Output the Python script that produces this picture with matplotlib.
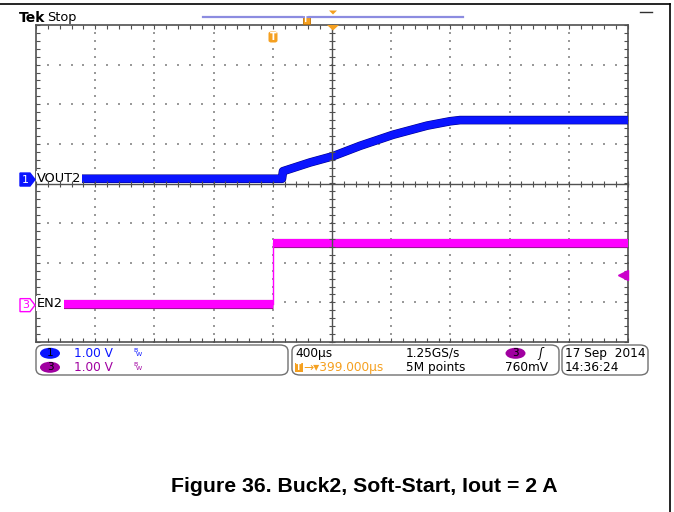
import numpy as np
import matplotlib.pyplot as plt
import matplotlib.patheffects as pe
from matplotlib.patches import FancyBboxPatch, Ellipse, Polygon, Rectangle
from matplotlib.lines import Line2D

# Scope settings
time_per_div_us = 400
h_position_us = 399
volts_per_div = 1.0
ch1_offset_div = 0.1
ch3_offset_div = -3.07
trigger_level_v = 0.76

# CH1: VOUT2 soft-start ramp (time in us from trigger, volts)
vout_t_us = [-1601, 61, 68, 250, 406, 588, 811, 1041, 1196, 1264, 2399]
vout_v = [0.02, 0.02, 0.21, 0.43, 0.59, 0.85, 1.13, 1.36, 1.47, 1.50, 1.50]

# CH3: EN2 enable step
en_low_t_us = [-1601, 0]
en_low_v = [0.04, 0.04]
en_high_t_us = [0, 2399]
en_high_v = [1.56, 1.56]

W, H = 674, 512
fig = plt.figure(figsize=(W / 100, H / 100), dpi=100)
fig.patch.set_facecolor('white')


def fp(x, y):
    # pixel position -> figure fraction
    return x / W, 1 - y / H


# graticule area
gl, gt, gr, gb = 36, 25, 628, 342
ax_rect = [gl / W, 1 - gb / H, (gr - gl) / W, (gb - gt) / H]
ax = fig.add_axes(ax_rect)
x0 = h_position_us - 5 * time_per_div_us
x1 = h_position_us + 5 * time_per_div_us
ax.set_xlim(x0, x1)
ax.set_ylim(-4, 4)
grid_col = '#505050'
for s in ax.spines.values():
    s.set_color(grid_col)
    s.set_linewidth(1.2)

minor_x = np.arange(x0, x1 + 1, time_per_div_us / 5)
minor_y = np.arange(-4, 4.01, 0.2)
ax.set_xticks(minor_x)
ax.set_yticks(minor_y)
ax.tick_params(direction='in', length=3, width=0.8, color=grid_col,
               top=True, right=True, labelbottom=False, labelleft=False)

# dotted grid lines
major_x = np.arange(x0 + time_per_div_us, x1 - 1, time_per_div_us)
major_y = np.arange(-3, 4)
dots_x, dots_y = [], []
for gx in major_x:
    if abs(gx - h_position_us) < 1:
        continue
    for yy in minor_y:
        dots_x.append(gx)
        dots_y.append(yy)
for gy in major_y:
    if gy == 0:
        continue
    for xx in minor_x:
        dots_x.append(xx)
        dots_y.append(gy)
ax.scatter(dots_x, dots_y, s=1.0, marker='s', color='#9a9a9a', lw=0, zorder=1)

# center crosshair with ticks on both sides
axc = fig.add_axes(ax_rect, sharex=ax, sharey=ax)
axc.patch.set_visible(False)
axc.spines['top'].set_visible(False)
axc.spines['right'].set_visible(False)
axc.spines['left'].set_position(('data', h_position_us))
axc.spines['bottom'].set_position(('data', 0))
axc.spines['left'].set_color(grid_col)
axc.spines['bottom'].set_color(grid_col)
axc.spines['left'].set_linewidth(1.0)
axc.spines['bottom'].set_linewidth(1.0)
axc.tick_params(direction='inout', length=5, width=0.8, color=grid_col,
                labelbottom=False, labelleft=False)

# traces
blue = '#0a14ff'
mag = '#ff00ff'
vout_div = np.array(vout_v) / volts_per_div + ch1_offset_div
ax.plot(vout_t_us, vout_div, color=blue, lw=5.4, solid_capstyle='butt',
        solid_joinstyle='round', zorder=5,
        path_effects=[pe.Stroke(linewidth=6.2, foreground='#00008a'), pe.Normal()])
en_low_div = np.array(en_low_v) / volts_per_div + ch3_offset_div
en_high_div = np.array(en_high_v) / volts_per_div + ch3_offset_div
for tt, yy in ((en_low_t_us, en_low_div), (en_high_t_us, en_high_div)):
    ax.plot(tt, yy, color=mag, lw=5.8, solid_capstyle='butt', zorder=5,
            path_effects=[pe.Stroke(linewidth=6.6, foreground='#a0109a'), pe.Normal()])
ax.plot([0, 0], [en_low_div[-1], en_high_div[0]], color=mag, lw=1.0, zorder=5)

# trigger level arrow on right edge
trig_y = trigger_level_v / volts_per_div + ch3_offset_div
ax.plot([x1 - 36], [trig_y], marker='<', ms=7, color='#cc00cc', zorder=6,
        clip_on=False)

# channel labels over the traces
ax.text(x0 + 8, vout_div[0], 'VOUT2', fontsize=9.3, va='center', ha='left',
        zorder=7, bbox=dict(fc='white', ec='none', pad=0.6))
ax.text(x0 + 8, en_low_div[0], 'EN2', fontsize=9.3, va='center', ha='left',
        zorder=7, bbox=dict(fc='white', ec='none', pad=0.6))

# channel ground markers
def ch_marker(yc, face, edge, label, txtcol):
    pts = [fp(20, yc - 6.5), fp(30, yc - 6.5), fp(35, yc), fp(30, yc + 6.5), fp(20, yc + 6.5)]
    fig.patches.append(Polygon(pts, closed=True, transform=fig.transFigure,
                               fc=face, ec=edge, lw=1.0))
    fig.text(*fp(25.5, yc), label, fontsize=8, ha='center', va='center',
             color=txtcol)

y_ch1 = 183.5 - ch1_offset_div * (gb - gt) / 8
y_ch3 = 183.5 - ch3_offset_div * (gb - gt) / 8
ch_marker(y_ch1, blue, blue, '1', 'white')
ch_marker(y_ch3, 'white', mag, '3', mag)

# top status line
fig.text(*fp(19, 17.5), 'Tek', fontsize=10, weight='bold',
         va='center', ha='left')
fig.text(*fp(47, 17.5), 'Stop', fontsize=9.3, va='center', ha='left')
fig.lines.append(Line2D([203 / W, 463 / W], [1 - 17.3 / H] * 2,
                        transform=fig.transFigure, color='#8c8ce0', lw=1.6))
orange = '#f5a020'
fig.patches.append(Rectangle(fp(302.5, 23.5), 7 / W, 8 / H, transform=fig.transFigure,
                             fc=orange, ec='#c07000', lw=0.6))
fig.text(*fp(306, 19.5), 'T', fontsize=5.5, color='white', ha='center', va='center',
         weight='bold')
fig.patches.append(Polygon([fp(329, 10.5), fp(337, 10.5), fp(333, 14.5)], closed=True,
                           transform=fig.transFigure, fc=orange, ec='none'))
fig.patches.append(Polygon([fp(327, 25), fp(339, 25), fp(333, 30.5)], closed=True,
                           transform=fig.transFigure, fc=orange, ec='none', zorder=8))
fig.patches.append(FancyBboxPatch(fp(268.5, 42.5), 9 / W, 11 / H,
                                  boxstyle='round,pad=0,rounding_size=0.004',
                                  transform=fig.transFigure, fc=orange, ec='none', zorder=8))
fig.text(*fp(273, 37), 'T', fontsize=7, color='white', ha='center', va='center',
         weight='bold', zorder=9)

# outer border and corner dash
fig.lines.append(Line2D([0, 670 / W], [1 - 4 / H] * 2, transform=fig.transFigure,
                        color='black', lw=1.2))
fig.lines.append(Line2D([670 / W] * 2, [1 - 4 / H, 0], transform=fig.transFigure,
                        color='black', lw=1.2))
fig.lines.append(Line2D([640 / W, 652 / W], [1 - 12 / H] * 2, transform=fig.transFigure,
                        color='#303030', lw=1.0))

# readout boxes
def readout_box(xa, xb):
    fig.patches.append(FancyBboxPatch(fp(xa, 375), (xb - xa) / W, 30 / H,
                                      boxstyle='round,pad=0,rounding_size=0.012',
                                      transform=fig.transFigure, fc='white',
                                      ec='#707070', lw=1.0))


readout_box(36, 288)
readout_box(292, 559)
readout_box(562, 648)

row1, row2 = 353.3, 367.3
fs = 8.7
purple = '#a000a0'
for yc, col, lab in ((row1, '#0a14ff', '1'), (row2, purple, '3')):
    fig.patches.append(Ellipse(fp(50, yc), 20 / W, 11 / H, transform=fig.transFigure,
                               fc=col, ec='none'))
    fig.text(*fp(50, yc), lab, fontsize=7.5, ha='center', va='center', color='black')
    fig.text(*fp(74, yc), '1.00 V', fontsize=fs, ha='left', va='center', color=col)
    fig.text(*fp(133, yc - 2.5), 'B', fontsize=4.5, ha='left', va='center', color=col)
    fig.text(*fp(136, yc + 1.5), 'W', fontsize=4.5, ha='left', va='center', color=col)

fig.text(*fp(295, row1), '400µs', fontsize=fs, ha='left', va='center')
fig.text(*fp(406, row1), '1.25GS/s', fontsize=fs, ha='left', va='center')
fig.patches.append(Ellipse(fp(515.5, row1), 20 / W, 11 / H, transform=fig.transFigure,
                           fc=purple, ec='none'))
fig.text(*fp(515.5, row1), '3', fontsize=7.5, ha='center', va='center')
fig.text(*fp(540, row1), 'ʃ', fontsize=fs, ha='center', va='center', style='italic')

fig.patches.append(Rectangle(fp(295, row2 + 4.5), 8 / W, 9 / H, transform=fig.transFigure,
                             fc=orange, ec='none'))
fig.text(*fp(299, row2), 'T', fontsize=5.5, color='white', ha='center', va='center',
         weight='bold')
fig.text(*fp(303.5, row2), '→▾399.000µs', fontsize=fs, ha='left', va='center',
         color=orange)
fig.text(*fp(406, row2), '5M points', fontsize=fs, ha='left', va='center')
fig.text(*fp(548, row2), '760mV', fontsize=fs, ha='right', va='center')
fig.text(*fp(565, row1), '17 Sep  2014', fontsize=fs, ha='left', va='center')
fig.text(*fp(565, row2), '14:36:24', fontsize=fs, ha='left', va='center')

# caption
fig.text(*fp(364, 487), 'Figure 36. Buck2, Soft-Start, Iout = 2 A', fontsize=15.3,
         family='Liberation Sans', weight='bold', ha='center', va='center')

fig.savefig('out.png', dpi=100)
